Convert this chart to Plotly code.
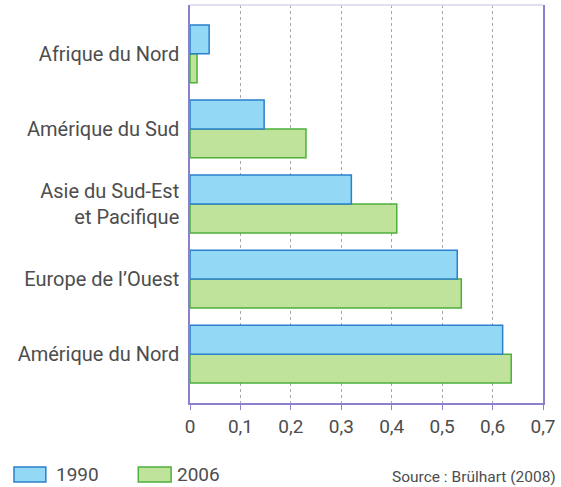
import plotly.graph_objects as go

regions = ["Amérique du Nord", "Europe de l’Ouest", "Asie du Sud-Est<br>et Pacifique",
           "Amérique du Sud", "Afrique du Nord"]
v1990 = [0.62, 0.53, 0.32, 0.147, 0.038]
v2006 = [0.637, 0.538, 0.41, 0.23, 0.014]
tick_vals = [0, 0.1, 0.2, 0.3, 0.4, 0.5, 0.6, 0.7]
tick_text = ["0", "0,1", "0,2", "0,3", "0,4", "0,5", "0,6", "0,7"]

FONT = "Roboto"
GREY = "#4d4d4d"
AXIS = "#8b80cc"
L, R, T, B = 190, 16, 5, 84
PW, PH = 561 - L - R, 487 - T - B

def px(x):
    return (x - L) / PW

def py(y):
    return (487 - B - y) / PH

fig = go.Figure()
fig.add_trace(go.Bar(y=regions, x=v2006, orientation="h", name="2006",
                     marker=dict(color="#bfe39a", line=dict(color="#4db03d", width=1.5))))
fig.add_trace(go.Bar(y=regions, x=v1990, orientation="h", name="1990",
                     marker=dict(color="#93d9f6", line=dict(color="#2b7fcb", width=1.5))))

fig.update_layout(
    width=561, height=487,
    margin=dict(l=L, r=R, t=T, b=B),
    plot_bgcolor="white", paper_bgcolor="white",
    barmode="group", bargap=0.23, bargroupgap=0,
    showlegend=False,
    font=dict(family=FONT, color=GREY, size=20),
    xaxis=dict(range=[0, 0.7], tickvals=tick_vals, ticktext=tick_text,
               showgrid=True, gridcolor="#a8a8a8", griddash="dot", gridwidth=1.3,
               zeroline=False, showline=True, linecolor=AXIS, linewidth=1.5, mirror=False,
               ticks="outside", ticklen=5, tickcolor=AXIS,
               tickfont=dict(size=19, color=GREY)),
    yaxis=dict(categoryorder="array", categoryarray=regions, range=[-0.65, 4.65],
               showline=True, linecolor=AXIS, linewidth=1.5, mirror=True,
               ticks="", ticklabelstandoff=5, tickfont=dict(size=20, color=GREY)),
)

# light top border of the frame
fig.add_shape(type="line", xref="paper", yref="paper", x0=0, x1=1, y0=1, y1=1,
              line=dict(color="#d9d4f0", width=1.5))

# legend swatches
fig.add_shape(type="rect", xref="paper", yref="paper",
              x0=px(13), x1=px(45), y0=py(482), y1=py(467),
              fillcolor="#93d9f6", line=dict(color="#2b7fcb", width=1.5))
fig.add_shape(type="rect", xref="paper", yref="paper",
              x0=px(138), x1=px(171), y0=py(482), y1=py(467),
              fillcolor="#bfe39a", line=dict(color="#4db03d", width=1.5))
fig.add_annotation(text="1990", xref="paper", yref="paper", x=px(53), y=py(475),
                   xanchor="left", yanchor="middle", showarrow=False,
                   font=dict(size=19, color=GREY))
fig.add_annotation(text="2006", xref="paper", yref="paper", x=px(175), y=py(475),
                   xanchor="left", yanchor="middle", showarrow=False,
                   font=dict(size=19, color=GREY))
fig.add_annotation(text="Source : Brülhart (2008)", xref="paper", yref="paper", x=px(560),
                   y=py(477), xanchor="right", yanchor="middle", showarrow=False,
                   font=dict(size=15.5, color=GREY))

fig.write_html("out.html", config={"displayModeBar": False},
               post_script="document.body.style.margin='0';")
